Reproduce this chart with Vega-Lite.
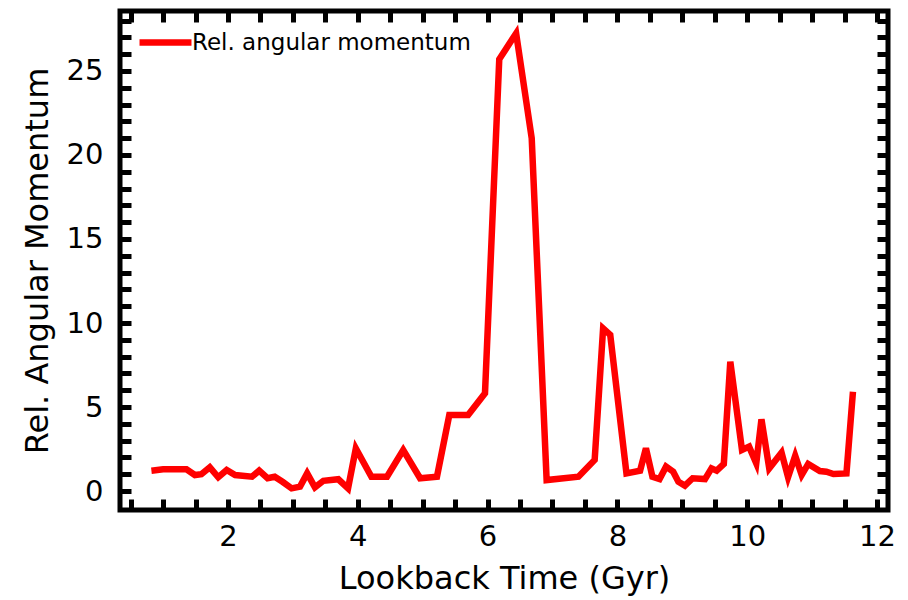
{
  "$schema": "https://vega.github.io/schema/vega-lite/v6.json",
  "width": 768,
  "height": 499,
  "autosize": {"type": "none"},
  "padding": {"left": 120, "top": 11, "right": 20, "bottom": 90},
  "background": "white",
  "data": {"values": [
    {"t": 0.82, "am": 1.21}, {"t": 1.0, "am": 1.29}, {"t": 1.36, "am": 1.29}, {"t": 1.49, "am": 0.95},
    {"t": 1.59, "am": 1.0}, {"t": 1.72, "am": 1.41}, {"t": 1.85, "am": 0.82}, {"t": 1.98, "am": 1.25},
    {"t": 2.11, "am": 0.95}, {"t": 2.37, "am": 0.85}, {"t": 2.48, "am": 1.21}, {"t": 2.61, "am": 0.76},
    {"t": 2.72, "am": 0.85}, {"t": 2.84, "am": 0.55}, {"t": 2.98, "am": 0.16}, {"t": 3.11, "am": 0.26},
    {"t": 3.22, "am": 1.05}, {"t": 3.34, "am": 0.22}, {"t": 3.47, "am": 0.61}, {"t": 3.70, "am": 0.70},
    {"t": 3.85, "am": 0.16}, {"t": 3.97, "am": 2.54}, {"t": 4.21, "am": 0.85}, {"t": 4.45, "am": 0.85},
    {"t": 4.70, "am": 2.44}, {"t": 4.96, "am": 0.76}, {"t": 5.22, "am": 0.85}, {"t": 5.41, "am": 4.52},
    {"t": 5.70, "am": 4.52}, {"t": 5.96, "am": 5.82}, {"t": 6.18, "am": 25.7}, {"t": 6.44, "am": 27.24},
    {"t": 6.68, "am": 21.0}, {"t": 6.91, "am": 0.65}, {"t": 7.40, "am": 0.85}, {"t": 7.65, "am": 1.85},
    {"t": 7.78, "am": 9.68}, {"t": 7.89, "am": 9.29}, {"t": 8.14, "am": 1.05}, {"t": 8.35, "am": 1.21},
    {"t": 8.44, "am": 2.54}, {"t": 8.54, "am": 0.85}, {"t": 8.65, "am": 0.71}, {"t": 8.75, "am": 1.45},
    {"t": 8.86, "am": 1.15}, {"t": 8.94, "am": 0.55}, {"t": 9.04, "am": 0.32}, {"t": 9.16, "am": 0.76},
    {"t": 9.35, "am": 0.71}, {"t": 9.45, "am": 1.35}, {"t": 9.53, "am": 1.21}, {"t": 9.64, "am": 1.61},
    {"t": 9.74, "am": 7.7}, {"t": 9.92, "am": 2.44}, {"t": 10.03, "am": 2.64}, {"t": 10.14, "am": 1.65},
    {"t": 10.22, "am": 4.27}, {"t": 10.34, "am": 1.35}, {"t": 10.53, "am": 2.28}, {"t": 10.63, "am": 0.82},
    {"t": 10.74, "am": 2.10}, {"t": 10.84, "am": 0.95}, {"t": 10.94, "am": 1.61}, {"t": 11.12, "am": 1.19},
    {"t": 11.22, "am": 1.15}, {"t": 11.33, "am": 1.01}, {"t": 11.53, "am": 1.05}, {"t": 11.63, "am": 5.91}
  ]},
  "layer": [
    {
      "mark": {"type": "line", "strokeWidth": 6.5, "strokeJoin": "miter", "clip": true},
      "encoding": {
        "x": {
          "field": "t", "type": "quantitative",
          "scale": {"domain": [0.336, 12.17], "nice": false, "zero": false},
          "axis": {
            "orient": "bottom", "title": "Lookback Time (Gyr)",
            "values": [0.5,1,1.5,2,2.5,3,3.5,4,4.5,5,5.5,6,6.5,7,7.5,8,8.5,9,9.5,10,10.5,11,11.5,12],
            "labelExpr": "datum.value % 2 == 0 ? format(datum.value, 'd') : ''",
            "labelPadding": 23, "titlePadding": 12
          }
        },
        "y": {
          "field": "am", "type": "quantitative",
          "scale": {"domain": [-1.13, 28.57], "nice": false, "zero": false},
          "axis": {
            "orient": "left", "title": "Rel. Angular Momentum",
            "values": [0,1,2,3,4,5,6,7,8,9,10,11,12,13,14,15,16,17,18,19,20,21,22,23,24,25,26,27,28],
            "labelExpr": "datum.value % 5 == 0 ? format(datum.value, 'd') : ''",
            "labelPadding": 28, "titlePadding": 12
          }
        },
        "color": {
          "datum": "Rel. angular momentum",
          "type": "nominal",
          "scale": {"range": ["#ff0000"]},
          "legend": {
            "orient": "none", "legendX": 16, "legendY": 2, "title": null,
            "symbolType": "stroke", "symbolSize": 2700, "symbolStrokeWidth": 6.5,
            "labelFont": "DejaVu Sans", "labelFontSize": 23, "labelColor": "black",
            "labelOffset": -3, "labelLimit": 0, "padding": 0
          }
        }
      }
    },
    {
      "mark": {"type": "line", "strokeOpacity": 0},
      "encoding": {
        "x": {
          "field": "t", "type": "quantitative",
          "axis": {
            "orient": "top", "title": null, "labels": false,
            "values": [0.5,1,1.5,2,2.5,3,3.5,4,4.5,5,5.5,6,6.5,7,7.5,8,8.5,9,9.5,10,10.5,11,11.5,12]
          }
        },
        "y": {
          "field": "am", "type": "quantitative",
          "axis": {
            "orient": "right", "title": null, "labels": false,
            "values": [0,1,2,3,4,5,6,7,8,9,10,11,12,13,14,15,16,17,18,19,20,21,22,23,24,25,26,27,28]
          }
        }
      }
    }
  ],
  "resolve": {"axis": {"x": "independent", "y": "independent"}},
  "config": {
    "view": {"stroke": "black", "strokeWidth": 5},
    "axis": {
      "domain": false, "grid": false,
      "tickColor": "black", "tickWidth": 5, "tickSize": -11,
      "labelFont": "DejaVu Sans", "labelFontSize": 29, "labelColor": "black",
      "titleFont": "DejaVu Sans", "titleFontSize": 32, "titleFontWeight": "normal", "titleColor": "black"
    }
  }
}
